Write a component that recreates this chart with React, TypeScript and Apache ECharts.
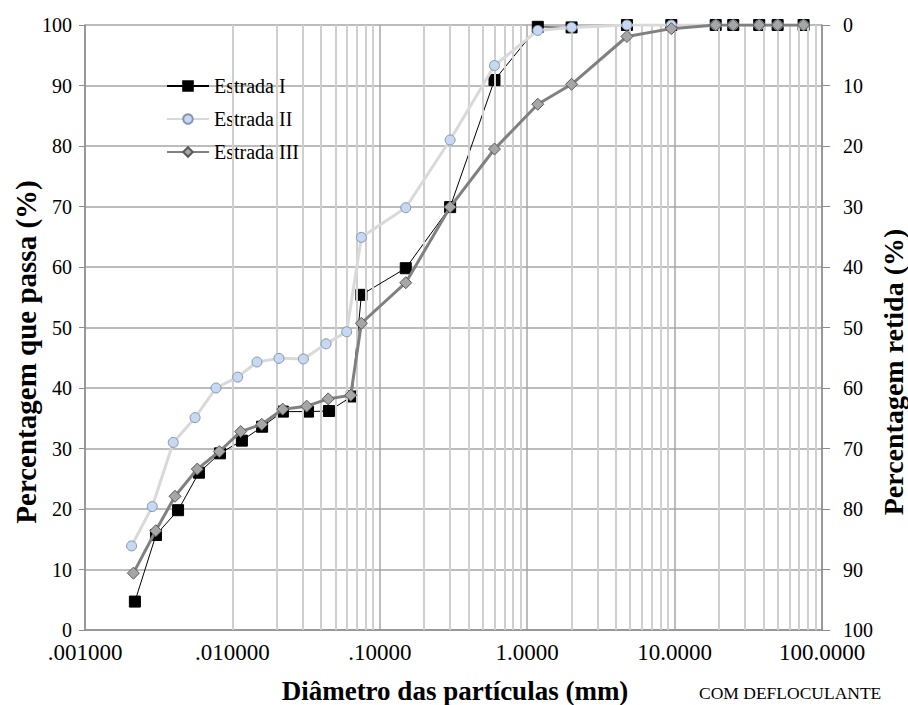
import React, { useEffect, useRef } from "react";
import * as echarts from "echarts";

const SERIES_NAMES = ["Estrada I", "Estrada II", "Estrada III"];

const DIAM_I = [0.00218, 0.00303, 0.00428, 0.00593, 0.00824, 0.0116, 0.0159, 0.022, 0.0326, 0.0452, 0.0646, 0.075, 0.15, 0.3, 0.6, 1.18, 2.0, 4.75, 9.5, 19, 25, 37.5, 50, 75];
const PASS_I = [4.7, 15.7, 19.8, 26.0, 29.2, 31.3, 33.6, 36.1, 36.1, 36.2, 38.6, 55.4, 59.8, 69.9, 90.9, 99.7, 99.6, 100, 100, 100, 100, 100, 100, 100];

const DIAM_II = [0.00207, 0.00286, 0.00397, 0.00558, 0.00774, 0.01086, 0.01468, 0.0207, 0.0303, 0.0432, 0.0596, 0.075, 0.15, 0.3, 0.6, 1.18, 2.0, 4.75, 9.5, 19, 25, 37.5, 50, 75];
const PASS_II = [13.9, 20.4, 31.0, 35.1, 40.0, 41.8, 44.3, 44.9, 44.8, 47.3, 49.3, 64.9, 69.8, 81.0, 93.3, 99.1, 99.6, 100, 100, 100, 100, 100, 100, 100];

const DIAM_III = [0.00213, 0.00302, 0.00408, 0.00578, 0.00815, 0.01138, 0.01581, 0.02194, 0.0319, 0.0447, 0.0635, 0.075, 0.15, 0.3, 0.6, 1.18, 2.0, 4.75, 9.5, 19, 25, 37.5, 50, 75];
const PASS_III = [9.4, 16.4, 22.1, 26.6, 29.5, 32.8, 34.0, 36.5, 37.0, 38.2, 38.8, 50.7, 57.4, 69.9, 79.5, 86.9, 90.2, 98.1, 99.4, 100, 100, 100, 100, 100];

const X_TICK_LABELS = [".001000", ".010000", ".10000", "1.0000", "10.0000", "100.0000"];
const DECADES = [0.001, 0.01, 0.1, 1, 10];
const MINOR_MULTS = [2, 3, 4, 5, 6, 7, 8, 9];

const X_TITLE = "Diâmetro das partículas (mm)";
const Y_LEFT_TITLE = "Percentagem que passa (%)";
const Y_RIGHT_TITLE = "Percentagem retida (%)";
const NOTE = "COM DEFLOCULANTE";

const FONT = "Liberation Serif";

export default function App() {
  const ref = useRef<HTMLDivElement>(null);
  useEffect(() => {
    if (!ref.current) return;
    const chart = echarts.init(ref.current, null, { renderer: "svg" });
    const zip = (xs: number[], ys: number[]) => xs.map((x, i) => [x, ys[i]]);
    const minorLines: any[] = [];
    DECADES.forEach((d) => MINOR_MULTS.forEach((m) => minorLines.push({ xAxis: d * m })));

    chart.setOption({
      animation: false,
      backgroundColor: "#ffffff",
      textStyle: { fontFamily: FONT },
      grid: { left: 85, right: 86, top: 25, bottom: 75, containLabel: false },
      legend: {
        orient: "vertical",
        left: 161,
        top: 71,
        itemGap: 13,
        itemWidth: 42,
        itemHeight: 12,
        textStyle: { fontFamily: FONT, fontSize: 20, color: "#000" },
        data: SERIES_NAMES,
      },
      xAxis: {
        type: "log",
        logBase: 10,
        min: 0.001,
        max: 100,
        axisLine: { show: true, onZero: false, lineStyle: { color: "#8c8c8c", width: 1.5 } },
        axisTick: { show: false },
        axisLabel: {
          fontFamily: FONT,
          fontSize: 23,
          color: "#000",
          margin: 11,
          formatter: (v: number) => {
            const i = Math.round(Math.log10(v)) + 3;
            return X_TICK_LABELS[i] ?? "";
          },
        },
        splitLine: { show: true, lineStyle: { color: "#a6a6a6", width: 1.5 } },
      },
      yAxis: [
        {
          type: "value",
          min: 0,
          max: 100,
          interval: 10,
          position: "left",
          axisLine: { show: true, lineStyle: { color: "#8c8c8c", width: 1.5 } },
          axisTick: { show: true, length: 6, lineStyle: { color: "#8c8c8c" } },
          axisLabel: { fontFamily: FONT, fontSize: 20, color: "#000", margin: 13 },
          splitLine: { show: true, lineStyle: { color: "#a6a6a6", width: 1.5 } },
        },
        {
          type: "value",
          min: 0,
          max: 100,
          interval: 10,
          inverse: true,
          position: "right",
          axisLine: { show: true, lineStyle: { color: "#8c8c8c", width: 1.5 } },
          axisTick: { show: true, inside: false, length: 8, lineStyle: { color: "#8c8c8c" } },
          axisLabel: { fontFamily: FONT, fontSize: 20, color: "#000", margin: 21 },
          splitLine: { show: false },
        },
      ],
      series: [
        {
          type: "line",
          name: "__minor",
          data: [],
          silent: true,
          z: 1,
          markLine: {
            silent: true,
            symbol: ["none", "none"],
            label: { show: false },
            lineStyle: { color: "#cfcfcf", width: 2, type: "solid" },
            data: minorLines,
            animation: false,
          },
        },
        {
          type: "line",
          name: SERIES_NAMES[0],
          data: zip(DIAM_I, PASS_I),
          z: 4,
          symbol: "rect",
          symbolSize: 11,
          lineStyle: { color: "#000000", width: 1 },
          itemStyle: { color: "#000000", borderColor: "#000000", borderWidth: 1 },
        },
        {
          type: "line",
          name: SERIES_NAMES[1],
          data: zip(DIAM_II, PASS_II),
          z: 5,
          symbol: "circle",
          symbolSize: 10,
          lineStyle: { color: "#d9d9d9", width: 3 },
          itemStyle: { color: "#c6d9f1", borderColor: "#8496b0", borderWidth: 1 },
        },
        {
          type: "line",
          name: SERIES_NAMES[2],
          data: zip(DIAM_III, PASS_III),
          z: 6,
          symbol: "diamond",
          symbolSize: 12,
          lineStyle: { color: "#808080", width: 3 },
          itemStyle: { color: "#a6a6a6", borderColor: "#595959", borderWidth: 1 },
        },
      ],
      graphic: [
        {
          type: "text",
          x: 455,
          y: 691,
          style: {
            text: X_TITLE,
            fontFamily: FONT,
            fontSize: 27,
            fontWeight: "bold",
            fill: "#000",
            textAlign: "center",
            textVerticalAlign: "middle",
          },
        },
        {
          type: "text",
          x: 26,
          y: 352,
          rotation: Math.PI / 2,
          style: {
            text: Y_LEFT_TITLE,
            fontFamily: FONT,
            fontSize: 29,
            fontWeight: "bold",
            fill: "#000",
            textAlign: "center",
            textVerticalAlign: "middle",
          },
        },
        {
          type: "text",
          x: 893,
          y: 372,
          rotation: Math.PI / 2,
          style: {
            text: Y_RIGHT_TITLE,
            fontFamily: FONT,
            fontSize: 28,
            fontWeight: "bold",
            fill: "#000",
            textAlign: "center",
            textVerticalAlign: "middle",
          },
        },
        {
          type: "text",
          left: 699,
          top: 684,
          style: { text: NOTE, fontFamily: FONT, fontSize: 17.5, fill: "#000" },
        },
      ],
    });
    return () => chart.dispose();
  }, []);
  return <div ref={ref} style={{ position: "absolute", left: 0, top: 0, width: 908, height: 705 }} />;
}
